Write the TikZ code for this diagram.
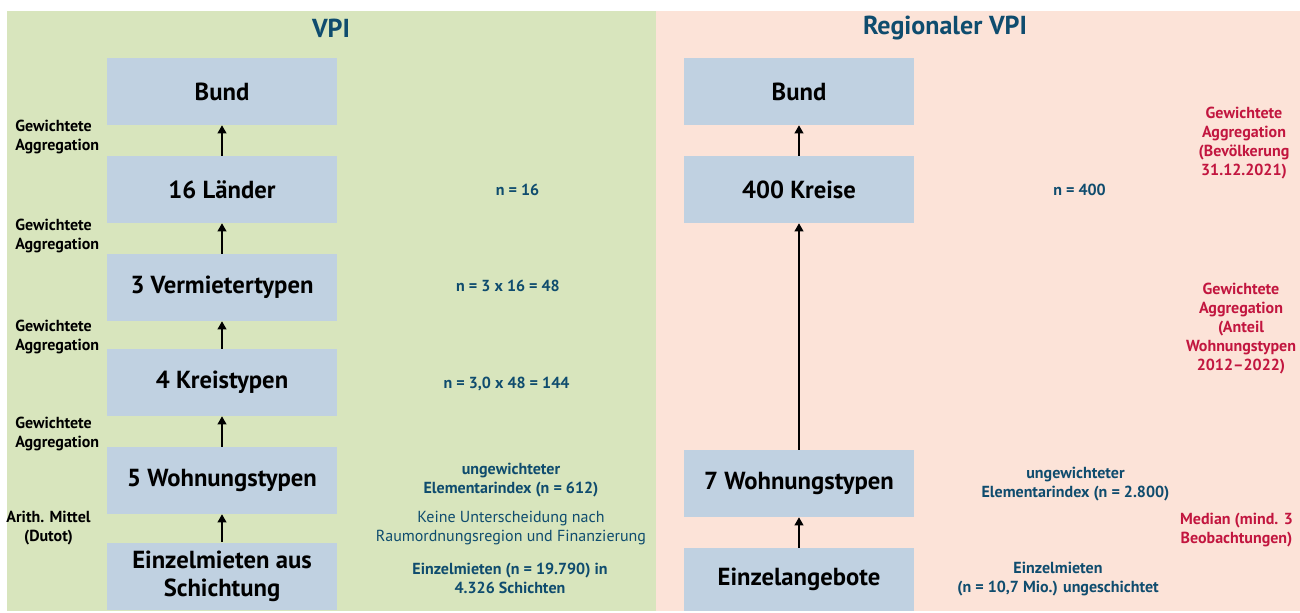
\documentclass[tikz,border=0pt]{standalone}
\usepackage{fontspec}
\setmainfont{PT Sans}
\usetikzlibrary{arrows.meta,positioning}

\definecolor{vpigruen}{HTML}{D8E5BD}
\definecolor{regrosa}{HTML}{FCE3D8}
\definecolor{stufe}{HTML}{C0D1E1}
\definecolor{dunkelblau}{HTML}{0F4C6E}
\definecolor{weinrot}{HTML}{C2163F}

\begin{document}
\begin{tikzpicture}[x=0.75pt,y=-0.75pt,
    ebene/.style={fill=stufe, minimum width=172.5pt, minimum height=50.25pt, inner sep=0pt,
      align=center, font=\fontsize{18.5}{21}\selectfont\bfseries},
    pfeil/.style={-{Triangle[length=6pt,width=6.5pt]}, line width=1.2pt},
    titel/.style={text=dunkelblau, font=\fontsize{19.5}{22}\selectfont\bfseries},
    methode/.style={inner sep=0pt, font=\fontsize{12}{14.25}\selectfont\bfseries},
    hinweis/.style={inner sep=0pt, align=center, text=dunkelblau, font=\fontsize{12}{14.25}\selectfont\bfseries},
    gewicht/.style={hinweis, text=weinrot}]

    \useasboundingbox (0,0) rectangle (1300,612);
    \fill[vpigruen] (7,11) rectangle (656,611);
    \fill[regrosa] (656,11) rectangle (1300,611);

    \node[titel] (vpi) at (331,28) {VPI};
    \node[titel] (regvpi) at (945,28) {Regionaler VPI};

    % VPI
    \node[ebene] (l1) at (222,91.5) {Bund};
    \node[ebene] (l2) at (222,189.5) {16 Länder};
    \node[ebene] (l3) at (222,287.5) {3 Vermietertypen};
    \node[ebene] (l4) at (222,382.5) {4 Kreistypen};
    \node[ebene] (l5) at (222,480.5) {5 Wohnungstypen};
    \node[ebene] (l6) at (222,576) {Einzelmieten aus\\Schichtung};

    \draw[pfeil] (l2.north) -- (l1.south);
    \draw[pfeil] (l3.north) -- (l2.south);
    \draw[pfeil] (l4.north) -- (l3.south);
    \draw[pfeil] (l5.north) -- (l4.south);
    \draw[pfeil] (l6.north) -- (l5.south);

    \node[methode, anchor=west, align=left] (m1) at (15,137) {Gewichtete\\Aggregation};
    \node[methode, anchor=west, align=left] (m2) at (15,236) {Gewichtete\\Aggregation};
    \node[methode, anchor=west, align=left] (m3) at (15,337) {Gewichtete\\Aggregation};
    \node[methode, anchor=west, align=left] (m4) at (15,433.5) {Gewichtete\\Aggregation};
    \node[methode, align=center] (m5) at (48.5,528.5) {Arith. Mittel\\(Dutot)};

    \node[hinweis] (n2) at (517.5,190) {n = 16};
    \node[hinweis] (n3) at (508,286) {n = 3 x 16 = 48};
    \node[hinweis] (n4) at (506.5,384) {n = 3,0 x 48 = 144};
    \node[hinweis] (n5) at (511,480.5) {ungewichteter\\Elementarindex (n = 612)};
    \node[hinweis, font=\fontsize{12}{14.25}\selectfont] (k5) at (511,528.5) {Keine Unterscheidung nach\\Raumordnungsregion und Finanzierung};
    \node[hinweis] (n6) at (510,578.5) {Einzelmieten (n = 19.790) in\\4.326 Schichten};

    % Regionaler VPI
    \node[ebene] (r1) at (799,91.5) {Bund};
    \node[ebene] (r2) at (799,189.5) {400 Kreise};
    \node[ebene] (r3) at (799,483.5) {7 Wohnungstypen};
    \node[ebene, minimum height=47.25pt] (r4) at (799,579.5) {Einzelangebote};

    \draw[pfeil] (r2.north) -- (r1.south);
    \draw[pfeil] (r3.north) -- (r2.south);
    \draw[pfeil] (r4.north) -- (r3.south);

    \node[hinweis] (q2) at (1079.5,190) {n = 400};
    \node[hinweis] (q3) at (1075.5,484.5) {ungewichteter\\Elementarindex (n = 2.800)};
    \node[hinweis] (q4) at (1058,579.5) {Einzelmieten\\(n = 10,7 Mio.) ungeschichtet};

    \node[gewicht] (g1) at (1244,143) {Gewichtete\\Aggregation\\(Bevölkerung\\31.12.2021)};
    \node[gewicht] (g2) at (1241,329) {Gewichtete\\Aggregation\\(Anteil\\Wohnungstypen\\2012--2022)};
    \node[gewicht] (g3) at (1236.5,530.5) {Median (mind. 3\\Beobachtungen)};

\end{tikzpicture}
\end{document}
